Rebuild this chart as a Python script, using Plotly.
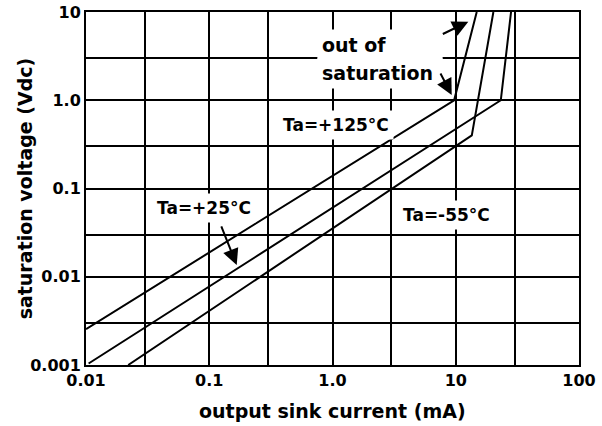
import plotly.graph_objects as go

# Data (output sink current in mA, saturation voltage in Vdc)
current_125 = [0.01, 9.7, 14.8]
vsat_125 = [0.00255, 1.0, 10.0]
current_25 = [0.0105, 23.2, 28.1]
vsat_25 = [0.00104, 1.0, 10.0]
current_m55 = [0.022, 13.5, 20.2]
vsat_m55 = [0.001, 0.40, 10.0]

x_grid = [0.01, 0.03, 0.1, 0.3, 1, 3, 10, 30, 100]
x_labels = ["0.01", "", "0.1", "", "1.0", "", "10", "", "100"]
y_grid = [0.001, 0.003, 0.01, 0.03, 0.1, 0.3, 1, 3, 10]
y_labels = ["0.001", "", "0.01", "", "0.1", "", "1.0", "", "10"]

FONT = "DejaVu Sans"
line_style = dict(color="black", width=2)

fig = go.Figure()
for xs, ys, name in [(current_125, vsat_125, "Ta=+125°C"),
                     (current_25, vsat_25, "Ta=+25°C"),
                     (current_m55, vsat_m55, "Ta=-55°C")]:
    fig.add_trace(go.Scatter(x=xs, y=ys, mode="lines", line=line_style,
                             name=name, showlegend=False, hoverinfo="skip"))

axis_common = dict(
    type="log", showgrid=True, gridcolor="black", gridwidth=2,
    showline=True, linecolor="black", linewidth=2, mirror=True,
    ticks="", zeroline=False, automargin=False,
    tickfont=dict(family=FONT, size=16, color="black", weight="bold"),
)
fig.update_xaxes(range=[-2, 2], tickvals=x_grid, ticktext=x_labels, **axis_common)
fig.update_yaxes(range=[-3, 1], tickvals=y_grid, ticktext=y_labels, **axis_common)

def label(text, x, y, size=17, xanchor="center", width=None):
    fig.add_annotation(text=text, xref="paper", yref="paper", x=x, y=y,
                       xanchor=xanchor, yanchor="middle", showarrow=False,
                       bgcolor="white", borderpad=4, width=width, align="left",
                       font=dict(family=FONT, size=size, color="black", weight="bold"))

def arrow(x, y, ax, ay):
    fig.add_annotation(text="", xref="paper", yref="paper", x=x, y=y, ax=ax, ay=ay,
                       showarrow=True, arrowhead=2, arrowsize=1.6, arrowwidth=2,
                       arrowcolor="black")

label("out of", 0.468, 0.9065, size=19, xanchor="left", width=116)
label("saturation", 0.468, 0.8272, size=19, xanchor="left", width=116)
label("Ta=+125°C", 0.508, 0.680)
label("Ta=+25°C", 0.239, 0.445)
label("Ta=-55°C", 0.7316, 0.425)

arrow(0.7755, 0.9725, -27, 13)
arrow(0.7418, 0.7649, -12, -23)
arrow(0.3057, 0.2833, -16, -40)

# axis titles
fig.add_annotation(text="output sink current (mA)", xref="paper", yref="paper",
                   x=0.5, y=-0.13, xanchor="center", yanchor="middle", showarrow=False,
                   font=dict(family=FONT, size=19, color="black", weight="bold"))
fig.add_annotation(text="saturation voltage (Vdc)", xref="paper", yref="paper",
                   x=-0.124, y=0.5, xanchor="center", yanchor="middle", showarrow=False,
                   textangle=-90,
                   font=dict(family=FONT, size=19, color="black", weight="bold"))

fig.update_layout(
    width=602, height=426,
    margin=dict(l=86, r=23, t=12, b=61),
    paper_bgcolor="white", plot_bgcolor="white",
)

fig.write_html("out.html", config={"displayModeBar": False},
               post_script="document.body.style.margin='0px';document.body.style.overflow='hidden';")
